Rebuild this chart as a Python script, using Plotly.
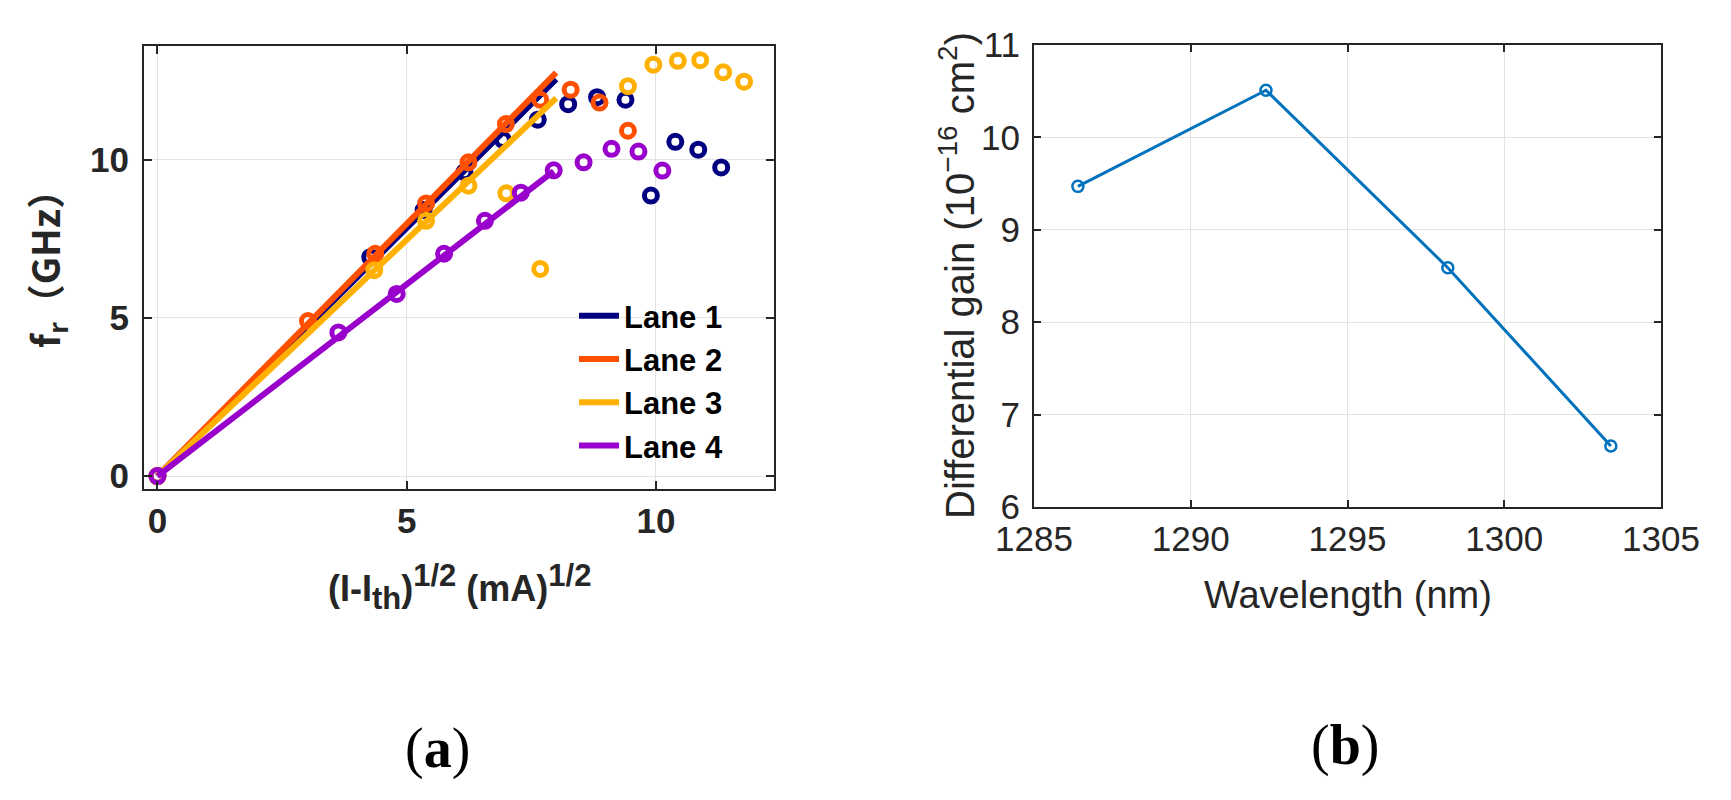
import plotly.graph_objects as go

# --- (a) resonance frequency vs sqrt(I - Ith) ---
lane1_x = [0, 4.27, 5.34, 6.16, 6.93, 7.63, 8.24, 8.82, 9.39, 9.90, 10.39, 10.85, 11.31]
lane1_y = [0, 6.92, 8.41, 9.61, 10.63, 11.27, 11.76, 11.98, 11.90, 8.87, 10.57, 10.32, 9.76]

lane2_x = [0, 3.02, 4.37, 5.39, 6.24, 6.99, 7.68, 8.29, 8.87, 9.44]
lane2_y = [0, 4.90, 7.03, 8.62, 9.92, 11.13, 11.90, 12.22, 11.81, 10.92]

lane3_x = [0, 4.35, 5.39, 6.24, 7.00, 7.68, 9.44, 9.95, 10.44, 10.89, 11.35, 11.77]
lane3_y = [0, 6.51, 8.07, 9.18, 8.94, 6.55, 12.33, 13.01, 13.13, 13.15, 12.77, 12.47]

lane4_x = [0, 3.63, 4.80, 5.75, 6.57, 7.29, 7.95, 8.55, 9.11, 9.65, 10.13]
lane4_y = [0, 4.54, 5.76, 7.03, 8.07, 8.96, 9.67, 9.92, 10.35, 10.26, 9.66]

# linear fits (start, end)
fit1_x = [0, 8.0]
fit1_y = [0, 12.55]
fit2_x = [0, 8.0]
fit2_y = [0, 12.76]
fit3_x = [0, 8.0]
fit3_y = [0, 11.95]
fit4_x = [0, 7.95]
fit4_y = [0, 9.64]

lane_names = ["Lane 1", "Lane 2", "Lane 3", "Lane 4"]
lane_colors = ["#000080", "#FF5000", "#FFB000", "#9900CC"]

# --- (b) differential gain vs wavelength ---
wavelength = [1286.4, 1292.4, 1298.2, 1303.4]
diff_gain = [9.47, 10.51, 8.59, 6.66]

W, H = 1731, 800
AX = "#262626"

fig = go.Figure()

lanes = [(lane1_x, lane1_y, fit1_x, fit1_y),
         (lane2_x, lane2_y, fit2_x, fit2_y),
         (lane3_x, lane3_y, fit3_x, fit3_y),
         (lane4_x, lane4_y, fit4_x, fit4_y)]

for (dx, dy, fx, fy), name, col in zip(lanes, lane_names, lane_colors):
    fig.add_trace(go.Scatter(
        x=dx, y=dy, mode="markers", showlegend=False,
        marker=dict(symbol="circle-open", size=13, color=col, line=dict(width=5, color=col)),
        xaxis="x", yaxis="y",
    ))
    fig.add_trace(go.Scatter(
        x=fx, y=fy, mode="lines", name=name,
        line=dict(color=col, width=6),
        xaxis="x", yaxis="y",
    ))

fig.add_trace(go.Scatter(
    x=wavelength, y=diff_gain, mode="lines+markers", showlegend=False,
    line=dict(color="#0072BD", width=3),
    marker=dict(symbol="circle-open", size=11, color="#0072BD", line=dict(width=2.5, color="#0072BD")),
    xaxis="x2", yaxis="y2",
))

bold_font = dict(family="Liberation Sans, Arial", size=35, color=AX, weight="bold")
reg_font = dict(family="Liberation Sans, Arial", size=35, color=AX)

common = dict(
    showline=True, linecolor=AX, linewidth=2, mirror="ticks",
    ticks="inside", tickcolor=AX, tickwidth=1.5,
    showgrid=True, gridcolor="#e3e3e3", gridwidth=1,
    zeroline=False, fixedrange=True, automargin=False,
)

fig.update_layout(
    width=W, height=H,
    margin=dict(l=0, r=0, t=0, b=0),
    paper_bgcolor="white", plot_bgcolor="white",
    xaxis=dict(domain=[136 / W, 766 / W], anchor="y", range=[-0.27, 12.37],
               tickvals=[0, 5, 10], ticklen=8, tickfont=bold_font, ticklabelstandoff=0, **common),
    yaxis=dict(domain=[1 - 481 / H, 1 - 38 / H], anchor="x", range=[-0.41, 13.6],
               tickvals=[0, 5, 10], ticklen=8, tickfont=bold_font, ticklabelstandoff=6, **common),
    xaxis2=dict(domain=[1026 / W, 1653 / W], anchor="y2", range=[1285, 1305],
                tickvals=[1285, 1290, 1295, 1300, 1305], ticklen=7, tickfont=reg_font,
                ticklabelstandoff=0, **common),
    yaxis2=dict(domain=[1 - 499 / H, 1 - 37 / H], anchor="x2", range=[6, 11],
                tickvals=[6, 7, 8, 9, 10, 11], ticklen=7, tickfont=reg_font,
                ticklabelstandoff=5, **common),
    legend=dict(x=566 / W, y=1 - 281 / H, xanchor="left", yanchor="top",
                bgcolor="rgba(255,255,255,0)", borderwidth=0,
                font=dict(family="Liberation Sans, Arial", size=31, color="black", weight="bold"),
                itemwidth=40, tracegroupgap=0),
    showlegend=True,
)

# axis titles and panel labels
small = '<span style="font-size:31px">%s</span>'
fig.add_annotation(text="(I-I<sub>" + small % "th" + "</sub>)<sup>" + small % "1/2"
                        + "</sup> (mA)<sup>" + small % "1/2" + "</sup>",
                   x=451 / W, y=1 - 579 / H, xref="paper", yref="paper",
                   xanchor="center", yanchor="middle", showarrow=False,
                   font=dict(family="Liberation Sans, Arial", size=36, color=AX, weight="bold"))
fig.add_annotation(text="f<sub>r</sub>（GHz）", textangle=-90,
                   x=38 / W, y=1 - 252 / H, xref="paper", yref="paper",
                   xanchor="center", yanchor="middle", showarrow=False,
                   font=dict(family="Noto Sans CJK SC", size=38, color=AX, weight="bold"))
fig.add_annotation(text="Wavelength (nm)",
                   x=1340 / W, y=1 - 587 / H, xref="paper", yref="paper",
                   xanchor="center", yanchor="middle", showarrow=False,
                   font=dict(family="Liberation Sans, Arial", size=38, color=AX))
fig.add_annotation(text="Differential gain (10<sup>\u221216</sup> cm<sup>2</sup>)", textangle=-90,
                   x=949 / W, y=1 - 268 / H, xref="paper", yref="paper",
                   xanchor="center", yanchor="middle", showarrow=False,
                   font=dict(family="Liberation Sans, Arial", size=40, color=AX))
fig.add_annotation(text="(<b>a</b>)", x=429 / W, y=1 - 740 / H, xref="paper", yref="paper",
                   xanchor="center", yanchor="middle", showarrow=False,
                   font=dict(family="Liberation Serif, Times New Roman", size=56, color="black"))
fig.add_annotation(text="(<b>b</b>)", x=1337 / W, y=1 - 737 / H, xref="paper", yref="paper",
                   xanchor="center", yanchor="middle", showarrow=False,
                   font=dict(family="Liberation Serif, Times New Roman", size=56, color="black"))

fig.write_html("out.html")
